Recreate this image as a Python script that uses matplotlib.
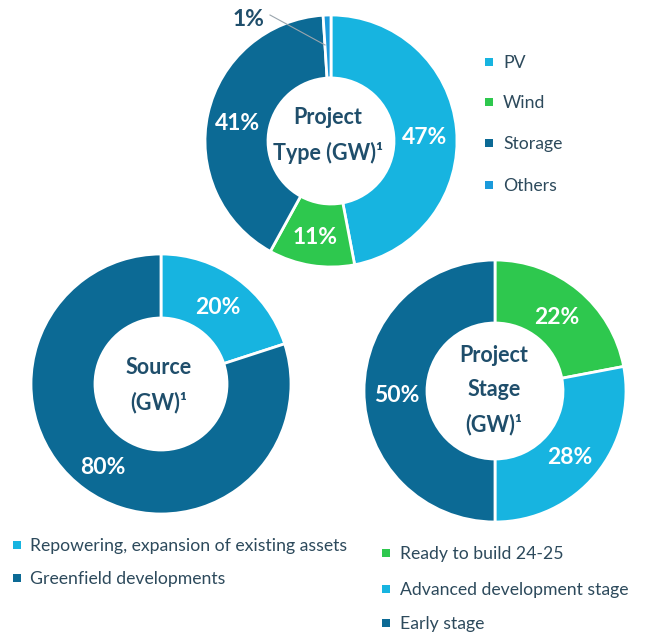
import matplotlib
matplotlib.use("Agg")
import matplotlib.pyplot as plt

# ---- data ----
type_labels = ["PV", "Wind", "Storage", "Others"]
type_values = [47, 11, 41, 1]
source_labels = ["Repowering, expansion of existing assets", "Greenfield developments"]
source_values = [20, 80]
stage_labels = ["Ready to build 24-25", "Advanced development stage", "Early stage"]
stage_values = [22, 28, 50]

CYAN = "#17B4E0"
GREEN = "#2EC84E"
DARK = "#0C6A95"
BLUE = "#1B9ADB"
TXT = "#1F4E6B"
LEG = "#2D4A5C"

type_colors = [CYAN, GREEN, DARK, BLUE]
source_colors = [CYAN, DARK]
stage_colors = [GREEN, CYAN, DARK]

plt.rcParams['font.family'] = ['Lato', 'DejaVu Sans']

W, H = 650, 640
fig = plt.figure(figsize=(6.5, 6.4), dpi=100)
ax = fig.add_axes([0, 0, 1, 1])

PCT_FS = 16.5
CTR_FS = 15.5
LEG_FS = 12.7

def Y(y):
    return H - y

def donut(values, colors, cx, cy, r, rin, labels_pos):
    wedges, _ = ax.pie(values, colors=colors, startangle=90, counterclock=False,
                       center=(cx, Y(cy)), radius=r,
                       wedgeprops=dict(width=r - rin, edgecolor="white", linewidth=2))
    for v, pos in zip(values, labels_pos):
        if pos is None:
            continue
        ax.text(pos[0], Y(pos[1]), f"{v}%", color="white", fontsize=PCT_FS,
                fontweight="bold", ha="center", va="center")
    return wedges

def center_text(lines, x, ys):
    for line, y in zip(lines, ys):
        ax.text(x, Y(y), line, color=TXT, fontsize=CTR_FS, fontweight="bold",
                ha="center", va="center")

donut(type_values, type_colors, 331, 141, 126, 63,
      [(425, 137), (315, 238), (237, 123), None])
# 1% outside label with leader line
ax.plot([270, 325], [Y(15), Y(45)], color="#9AA5AD", lw=0.8)
ax.text(248, Y(19), f"{type_values[3]}%", color=TXT, fontsize=PCT_FS,
        fontweight="bold", ha="center", va="center")
center_text(["Project", "Type (GW)\u00b9"], 328, [118, 153])

donut(source_values, source_colors, 161, 384, 130, 66,
      [(218, 308), (103, 467)])
center_text(["Source", "(GW)\u00b9"], 159, [367, 403])

donut(stage_values, stage_colors, 495, 391, 131, 68,
      [(557, 318), (570, 458), (397, 395)])
center_text(["Project", "Stage", "(GW)\u00b9"], 494, [355, 390, 425])

# legends
def legend(labels, colors, xs, xt, ys):
    for lab, c, y in zip(labels, colors, ys):
        ax.scatter([xs], [Y(y)], marker="s", s=26, color=c, linewidths=0)
        ax.text(xt, Y(y + 1), lab, color=LEG, fontsize=LEG_FS, ha="left", va="center")

legend(type_labels, type_colors, 489, 503, [62, 102, 143, 185])
legend(source_labels, source_colors, 16.5, 30, [545, 578])
legend(stage_labels, stage_colors, 386, 400, [553, 589, 623])

ax.set_xlim(0, W)
ax.set_ylim(0, H)
ax.set_aspect("equal")
ax.axis("off")
fig.savefig("out.png", dpi=100, facecolor="white")
